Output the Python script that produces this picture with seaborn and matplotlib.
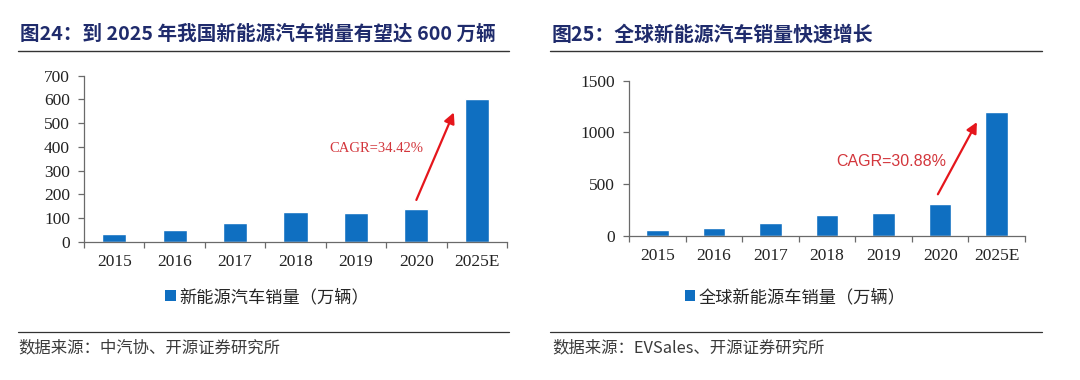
import matplotlib
matplotlib.use("Agg")
import matplotlib.pyplot as plt
import seaborn as sns
import pandas as pd
from matplotlib.patches import Patch
from matplotlib.lines import Line2D
from matplotlib.ticker import FixedLocator

# ---------------- data ----------------
years = ["2015", "2016", "2017", "2018", "2019", "2020", "2025E"]
china_sales = [33.1, 50.7, 77.7, 125.6, 120.6, 136.7, 600]
global_sales = [55, 77, 122, 201, 221, 312, 1200]
left_yticks = [0, 100, 200, 300, 400, 500, 600, 700]
right_yticks = [0, 500, 1000, 1500]

left_title = "图24：到 2025 年我国新能源汽车销量有望达 600 万辆"
right_title = "图25：全球新能源汽车销量快速增长"
left_legend = "新能源汽车销量（万辆）"
right_legend = "全球新能源车销量（万辆）"
left_source = "数据来源：中汽协、开源证券研究所"
right_source = "数据来源：EVSales、开源证券研究所"
left_cagr = "CAGR=34.42%"
right_cagr = "CAGR=30.88%"

BAR = "#0F6FC1"
TITLE_C = "#1F2B6C"
RED = "#E5161C"
CAGR_C = "#D3363C"
CJK = ["Noto Sans CJK SC", "DejaVu Sans"]
SERIF = ["Liberation Serif", "Noto Sans CJK SC"]

sns.set_theme(style="white")
plt.rcParams["font.family"] = CJK

fig = plt.figure(figsize=(10.8, 3.8), dpi=100)

def make_panel(rect, values, yticks, ylim, legend_text, legend_x,
               cagr_text, cagr_xy, cagr_font, arrow_from, arrow_to):
    ax = fig.add_axes(rect)
    df = pd.DataFrame({"year": years, "value": values})
    sns.barplot(data=df, x="year", y="value", color=BAR, width=0.4,
                saturation=1, ax=ax)
    ax.set_xlim(-0.5, len(years) - 0.5)
    ax.set_ylim(*ylim)
    ax.set_yticks(yticks)
    ax.set_xlabel("")
    ax.set_ylabel("")
    for s in ["top", "right"]:
        ax.spines[s].set_visible(False)
    for s in ["left", "bottom"]:
        ax.spines[s].set_color("#6a6a6a")
        ax.spines[s].set_linewidth(0.9)
    ax.xaxis.set_minor_locator(FixedLocator([i - 0.5 for i in range(len(years) + 1)]))
    ax.tick_params(axis="x", which="major", length=0, pad=9)
    ax.tick_params(axis="x", which="minor", length=4, width=0.9,
                   color="#6a6a6a", direction="out", bottom=True)
    ax.tick_params(axis="y", length=4, width=0.9, color="#6a6a6a",
                   direction="out", left=True, pad=6)
    for lab in ax.get_xticklabels() + ax.get_yticklabels():
        lab.set_fontfamily(SERIF)
        lab.set_fontsize(12.5)
        lab.set_color("#222222")
    ax.grid(False)
    ax.annotate("", xy=arrow_to, xytext=arrow_from,
                arrowprops=dict(arrowstyle="-|>", color=RED, lw=1.6,
                                mutation_scale=16, shrinkA=0, shrinkB=0))
    ax.text(cagr_xy[0], cagr_xy[1], cagr_text, color=CAGR_C,
            fontsize=cagr_font[1], family=cagr_font[0], va="center", ha="left")
    handle = Patch(facecolor=BAR, edgecolor="none")
    fig.legend(handles=[handle], labels=[legend_text], loc="center",
               bbox_to_anchor=(legend_x, 1 - 297 / 380), frameon=False,
               handlelength=0.6, handleheight=0.6, handletextpad=0.2,
               prop={"family": CJK, "size": 12.4})
    return ax

make_panel([84 / 1080, 1 - 241.7 / 380, (507 - 84) / 1080, (241.7 - 75.7) / 380],
           china_sales, left_yticks, (0, 700), left_legend, 267 / 1080,
           left_cagr, (3.56, 391), (SERIF, 10.5), (5.0, 176), (5.62, 545))
make_panel([629 / 1080, 1 - 236 / 380, (1025 - 629) / 1080, (236 - 80.7) / 380],
           global_sales, right_yticks, (0, 1500), right_legend, 795 / 1080,
           right_cagr, (3.16, 724), (["Liberation Sans"], 11.5), (4.96, 403), (5.65, 1100))

# titles and rules
fig.text(20 / 1080, 1 - 34 / 380, left_title, fontsize=14.1, fontweight="bold",
         color=TITLE_C, va="center", ha="left", family=CJK)
fig.text(552 / 1080, 1 - 34 / 380, right_title, fontsize=14.3, fontweight="bold",
         color=TITLE_C, va="center", ha="left", family=CJK)
for x0, x1 in [(18, 509), (550, 1042)]:
    for yy in (51, 331.5):
        fig.add_artist(Line2D([x0 / 1080, x1 / 1080], [1 - yy / 380, 1 - yy / 380],
                              color="#333333", lw=1.0 if yy == 51 else 0.9,
                              transform=fig.transFigure))
fig.text(18 / 1080, 1 - 348 / 380, left_source, fontsize=11.8, color="#3a3a3a",
         va="center", ha="left", family=CJK)
fig.text(552 / 1080, 1 - 348 / 380, right_source, fontsize=11.8, color="#3a3a3a",
         va="center", ha="left", family=CJK)

fig.savefig("out.png", dpi=100, facecolor="white")
